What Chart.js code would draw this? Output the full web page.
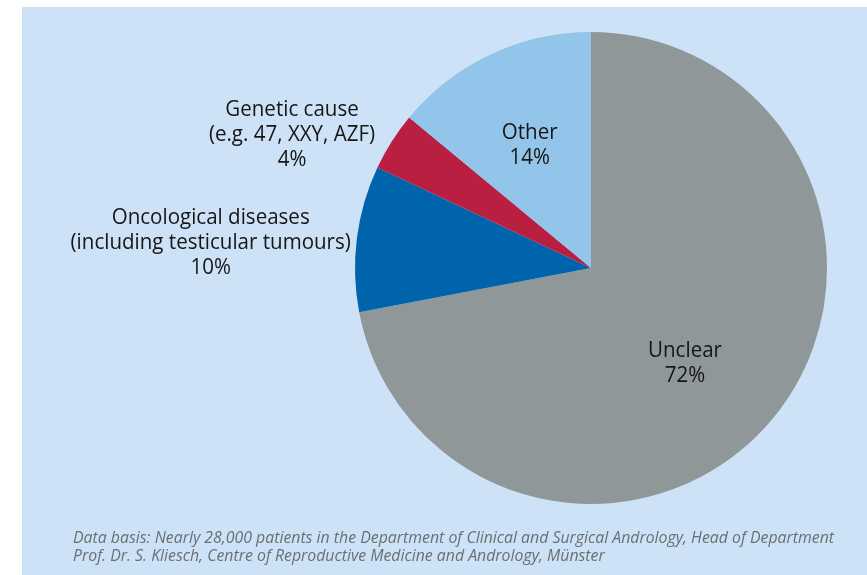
<!DOCTYPE html>
<html>
<head>
<meta charset="utf-8">
<script src="https://cdn.jsdelivr.net/npm/chart.js@4"></script>
<style>
  html, body { margin: 0; padding: 0; background: #fff; }
  #panel {
    position: absolute; left: 22px; top: 7px; width: 845px; height: 568px;
    background: #cde2f6;
  }
  #chartBox { position: absolute; left: 0; top: 0; width: 845px; height: 568px; }
  #note {
    position: absolute; left: 51px; top: 521px; white-space: nowrap;
    font: italic 15.85px "Open Sans", sans-serif; color: #6b6f73; line-height: 18px;
  }
</style>
</head>
<body>
<div id="panel">
  <div id="chartBox"><canvas id="causeChart"></canvas></div>
  <div id="note">Data basis: Nearly 28,000 patients in the Department of Clinical and Surgical Andrology, Head of Department<br>Prof. Dr. S. Kliesch, Centre of Reproductive Medicine and Andrology, Münster</div>
</div>
<script>
// Causes, in drawing order (clockwise from the top)
const categories = ['Unclear', 'Oncological diseases', 'Genetic cause', 'Other'];
const shares = [72, 10, 4, 14];
const labelLines = [
    ['Unclear'],
    ['Oncological diseases', '(including testicular tumours)'],
    ['Genetic cause', '(e.g. 47, XXY, AZF)'],
    ['Other']
];
const colors = ['#8f9799', '#0064ac', '#b81f41', '#93c5ea'];

// where each label sits: distance from centre (x radius) and a nudge
const labelPlace = [
    { r: 0.55, dx: -6, dy: 12 },
    { r: 1.62, dx: -1, dy: 23 },
    { r: 1.38, dx: -24, dy: 41 },
    { r: 0.57, dx: -4, dy: -1 }
];

// Draw the slice labels (condensed look: squeeze the font sideways)
const sliceLabels = {
    id: 'sliceLabels',
    afterDatasetsDraw(chart) {
        const ctx = chart.ctx;
        const arcs = chart.getDatasetMeta(0).data;
        ctx.save();
        ctx.fillStyle = '#161616';
        ctx.font = '22px "Open Sans", sans-serif';
        ctx.textAlign = 'center';
        ctx.textBaseline = 'middle';
        const squeeze = 198 / ctx.measureText('Oncological diseases').width;
        arcs.forEach((arc, i) => {
            const p = arc.getProps(['x', 'y', 'startAngle', 'endAngle', 'outerRadius'], true);
            const mid = (p.startAngle + p.endAngle) / 2;
            const place = labelPlace[i];
            const cx = p.x + Math.cos(mid) * p.outerRadius * place.r + place.dx;
            const cy = p.y + Math.sin(mid) * p.outerRadius * place.r + place.dy;
            const lines = labelLines[i].concat([shares[i] + '%']);
            const lh = 25;
            const top = cy - (lines.length - 1) * lh / 2;
            lines.forEach((t, j) => {
                ctx.save();
                ctx.translate(cx, top + j * lh);
                ctx.scale(squeeze, 1);
                ctx.fillText(t, 0, 0);
                ctx.restore();
            });
        });
        ctx.restore();
    }
};

const ctx = document.getElementById('causeChart').getContext('2d');
const causeChart = new Chart(ctx, {
    type: 'pie',
    data: {
        labels: categories,
        datasets: [{
            data: shares,
            backgroundColor: colors,
            borderWidth: 0
        }]
    },
    options: {
        responsive: true,
        maintainAspectRatio: false,
        animation: false,
        layout: {
            padding: { left: 333, right: 40, top: 25, bottom: 71 }
        },
        plugins: {
            legend: { display: false },
            tooltip: { enabled: false }
        }
    },
    plugins: [sliceLabels]
});
</script>
</body>
</html>
